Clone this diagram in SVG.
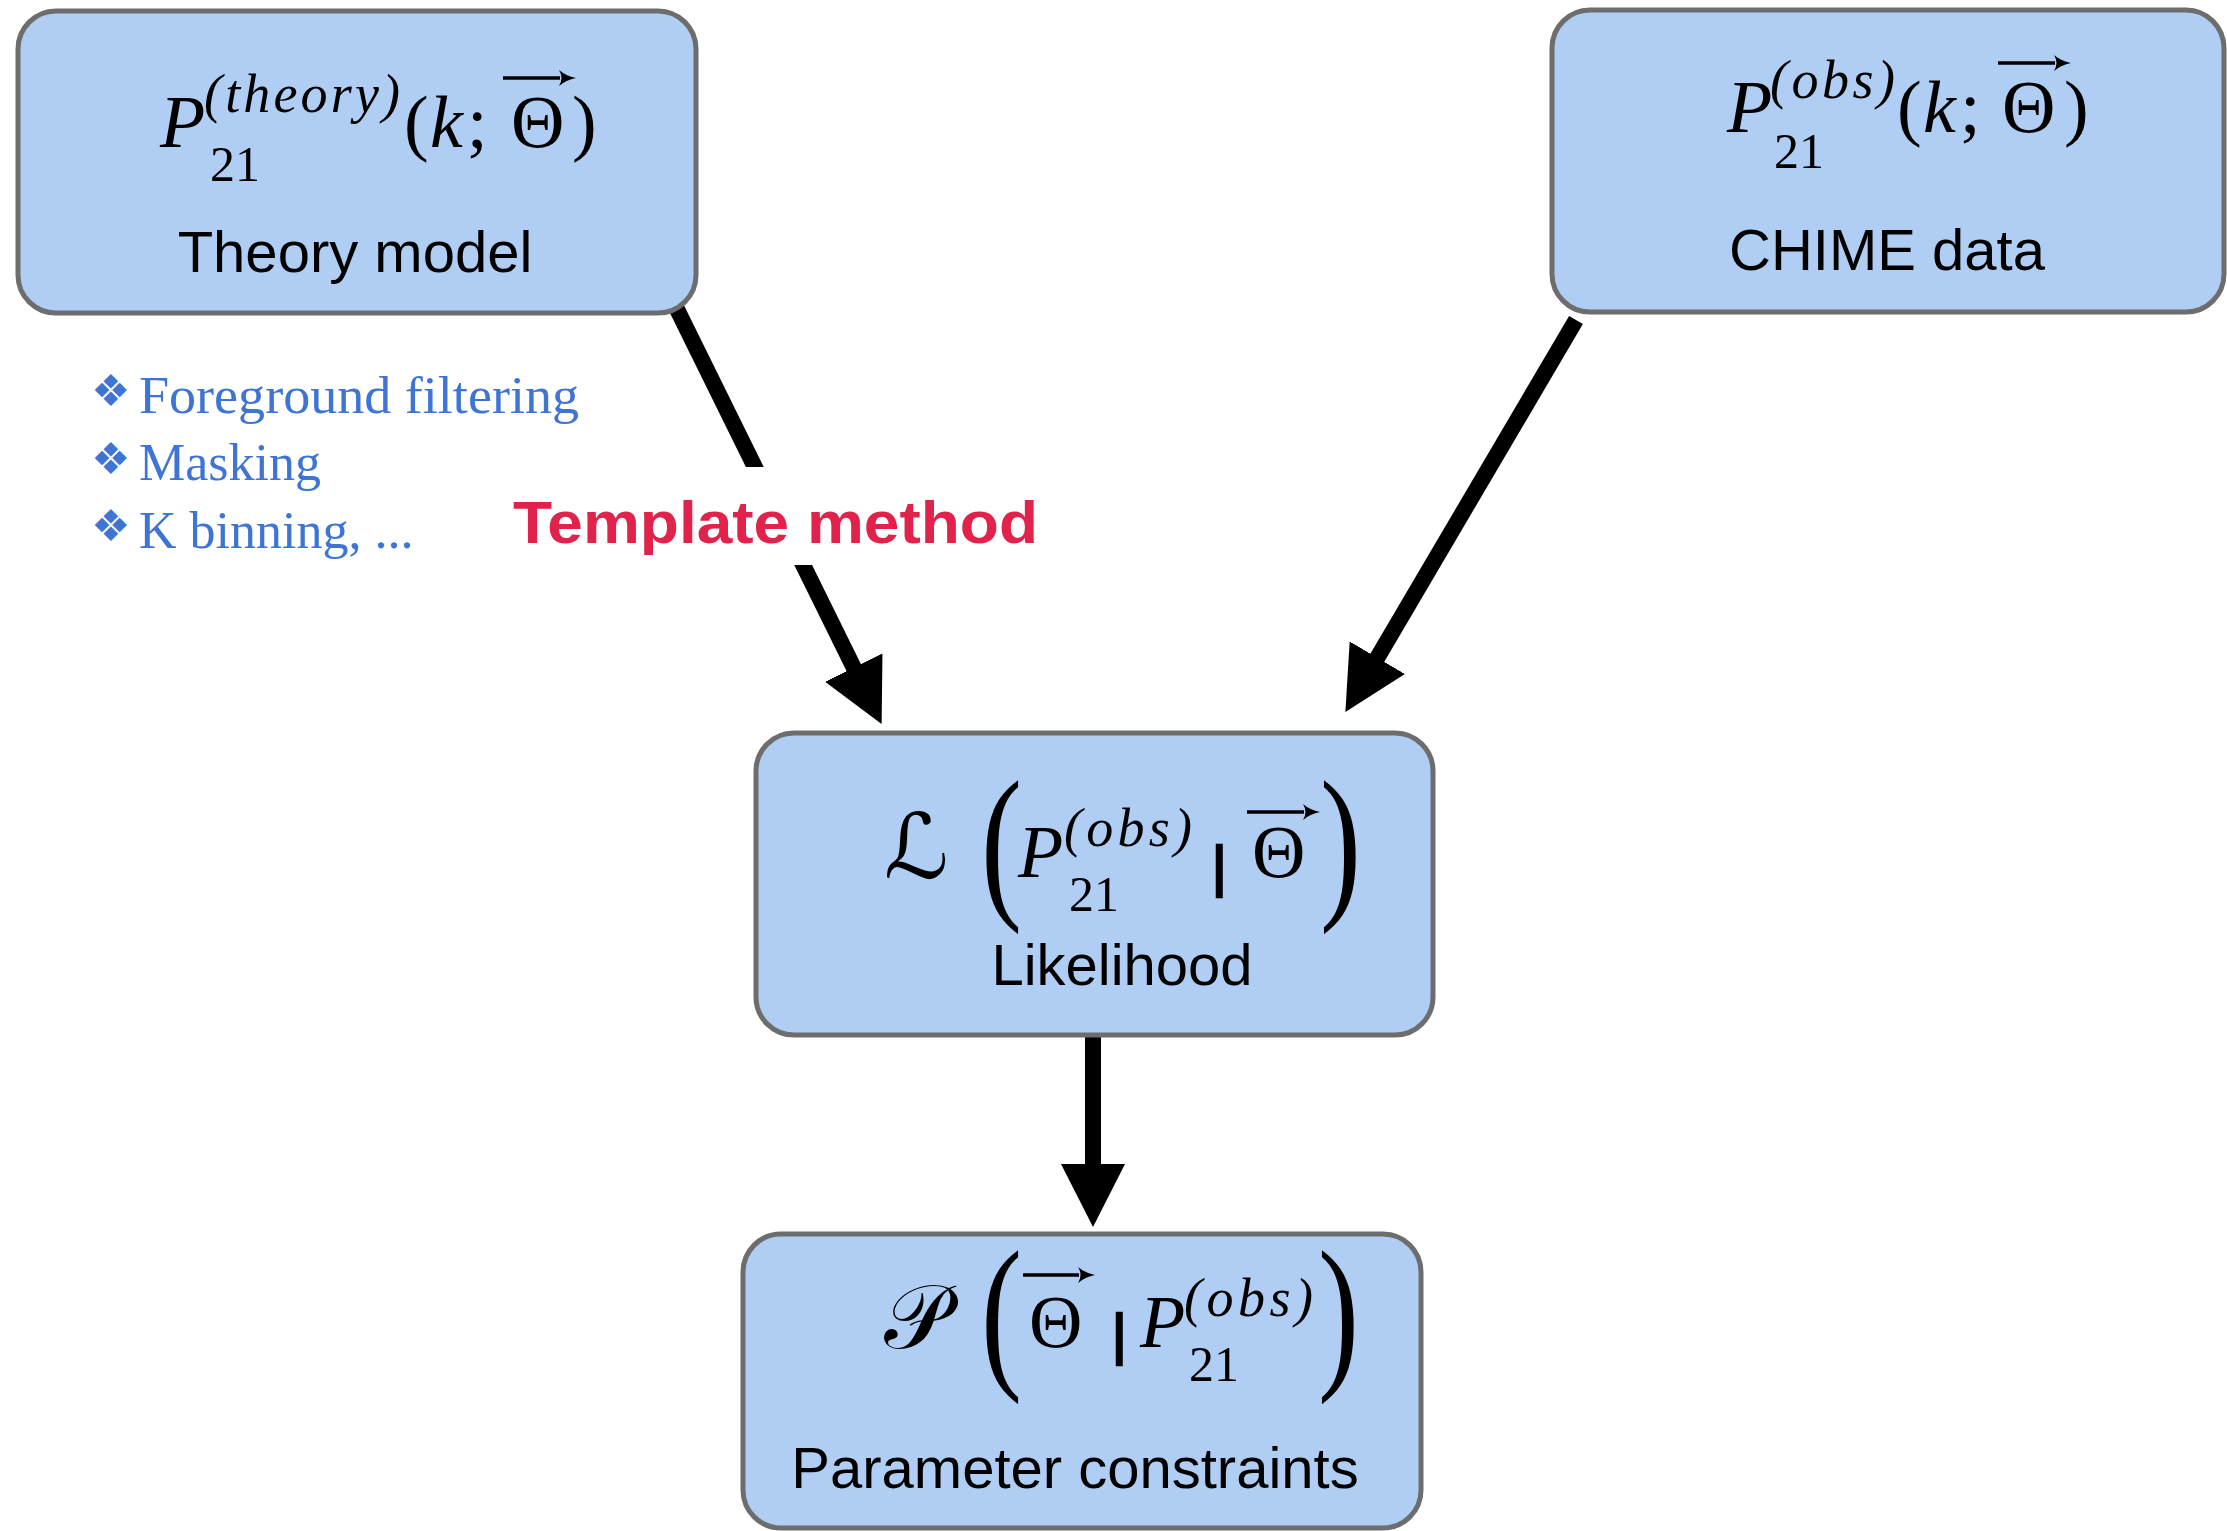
<svg xmlns="http://www.w3.org/2000/svg" width="2227" height="1531" viewBox="0 0 2227 1531">
<style>
.box{fill:#b0cef3;stroke:#6d6d6d;stroke-width:5}
.lbl{font-family:"Liberation Sans",Arial,sans-serif;font-size:58px;fill:#000;text-anchor:middle}
.m{font-family:"Liberation Serif","Times New Roman",serif;font-size:74px;fill:#000}
.mi{font-family:"Liberation Serif","Times New Roman",serif;font-size:74px;font-style:italic;fill:#000}
.sup{font-family:"Liberation Serif","Times New Roman",serif;font-size:54px;font-style:italic;fill:#000}
.sub{font-family:"Liberation Serif","Times New Roman",serif;font-size:50px;fill:#000}
.big{font-family:"Liberation Serif","Times New Roman",serif;font-size:85px;fill:#000}
.bar{font-family:"Liberation Sans",Arial,sans-serif;font-size:56px;fill:#000;stroke:#000;stroke-width:2.5}
.scr{font-family:"DejaVu Serif","DejaVu Sans",serif;font-size:90px;fill:#000}
.vec{stroke:#000;stroke-width:3.5;fill:none}
.conn{stroke:#000;stroke-width:16;fill:none;stroke-linecap:butt}
.bl{font-family:"Liberation Serif","Times New Roman",serif;font-size:52px;fill:#3e74d4}
.bul{font-family:"DejaVu Sans",sans-serif;font-size:44px;fill:#3e74d4}
</style>
<defs>
<marker id="ah" markerUnits="userSpaceOnUse" markerWidth="64" markerHeight="64" viewBox="0 0 64 64" refX="1" refY="32" orient="auto">
<path d="M0,0 L63,32 L0,64 z" fill="#000"/>
</marker>
<marker id="va" markerUnits="userSpaceOnUse" markerWidth="18" markerHeight="18" viewBox="0 -9 18 18" refX="1" refY="0" orient="auto">
<path d="M0,-8 Q7,-2 17,0 Q7,2 0,8 Q5,0 0,-8 z" fill="#000"/>
</marker>
</defs>
<rect width="2227" height="1531" fill="#ffffff"/>

<g id="connectors">
<line class="conn" x1="670" y1="295" x2="854.2" y2="668.5" marker-end="url(#ah)"/>
<line class="conn" x1="1576" y1="320" x2="1376.8" y2="658.6" marker-end="url(#ah)"/>
<line class="conn" x1="1093" y1="1030" x2="1093" y2="1165" marker-end="url(#ah)"/>
</g>

<g id="label-template">
<rect x="500" y="467" width="555" height="98" fill="#ffffff"/>
<text x="513" y="543" font-family="'Liberation Sans',Arial,sans-serif" font-size="60" font-weight="bold" fill="#e1224b" textLength="525" lengthAdjust="spacingAndGlyphs">Template method</text>
</g>

<g id="bullets">
<text class="bul" x="91" y="406">❖</text>
<text class="bl" x="139" y="413" textLength="440" lengthAdjust="spacingAndGlyphs">Foreground filtering</text>
<text class="bul" x="91" y="474">❖</text>
<text class="bl" x="139" y="480">Masking</text>
<text class="bul" x="91" y="541">❖</text>
<text class="bl" x="139" y="548">K binning, ...</text>
</g>

<g id="node-theory">
<rect class="box" x="18" y="11" width="678" height="302" rx="38"/>
<text class="mi" x="160" y="147">P</text>
<text class="sup" x="204" y="112" textLength="196" lengthAdjust="spacing">(theory)</text>
<text class="sub" x="210" y="181">21</text>
<text class="m" x="404" y="147">(</text>
<text class="mi" x="430" y="147">k</text>
<text class="m" x="467" y="147">;</text>
<text class="m" x="511" y="147">Θ</text>
<text class="m" x="572" y="147">)</text>
<line class="vec" x1="503" y1="78" x2="560" y2="78" marker-end="url(#va)"/>
<text class="lbl" x="355" y="272">Theory model</text>
</g>

<g id="node-chime">
<rect class="box" x="1552" y="10" width="672" height="302" rx="38"/>
<text class="mi" x="1727" y="132">P</text>
<text class="sup" x="1770" y="98" textLength="125" lengthAdjust="spacing">(obs)</text>
<text class="sub" x="1774" y="168">21</text>
<text class="m" x="1897" y="132">(</text>
<text class="mi" x="1923" y="132">k</text>
<text class="m" x="1960" y="132">;</text>
<text class="m" x="2002" y="132">Θ</text>
<text class="m" x="2064" y="132">)</text>
<line class="vec" x1="1998" y1="63" x2="2055" y2="63" marker-end="url(#va)"/>
<text class="lbl" x="1887" y="270">CHIME data</text>
</g>

<g id="node-likelihood">
<rect class="box" x="756" y="733" width="677" height="302" rx="38"/>
<text class="scr" x="884" y="878">ℒ</text>
<text class="big" transform="translate(981,898) scale(1.45,2)">(</text>
<text class="mi" x="1018" y="877">P</text>
<text class="sup" x="1064" y="846" textLength="128" lengthAdjust="spacing">(obs)</text>
<text class="sub" x="1069" y="911">21</text>
<text class="bar" x="1212" y="885">|</text>
<text class="m" x="1252" y="877">Θ</text>
<line class="vec" x1="1247" y1="812" x2="1304" y2="812" marker-end="url(#va)"/>
<text class="big" transform="translate(1320,898) scale(1.45,2)">)</text>
<text class="lbl" x="1122" y="985">Likelihood</text>
</g>

<g id="node-parameter">
<rect class="box" x="743" y="1234" width="678" height="294" rx="38"/>
<text class="scr" x="884" y="1348">𝒫</text>
<text class="big" transform="translate(981,1368) scale(1.45,2)">(</text>
<text class="m" x="1029" y="1347">Θ</text>
<line class="vec" x1="1023" y1="1275" x2="1079" y2="1275" marker-end="url(#va)"/>
<text class="bar" x="1112" y="1353">|</text>
<text class="mi" x="1140" y="1347">P</text>
<text class="sup" x="1184" y="1316" textLength="129" lengthAdjust="spacing">(obs)</text>
<text class="sub" x="1189" y="1381">21</text>
<text class="big" transform="translate(1318,1368) scale(1.45,2)">)</text>
<text class="lbl" x="1075" y="1488">Parameter constraints</text>
</g>
</svg>
